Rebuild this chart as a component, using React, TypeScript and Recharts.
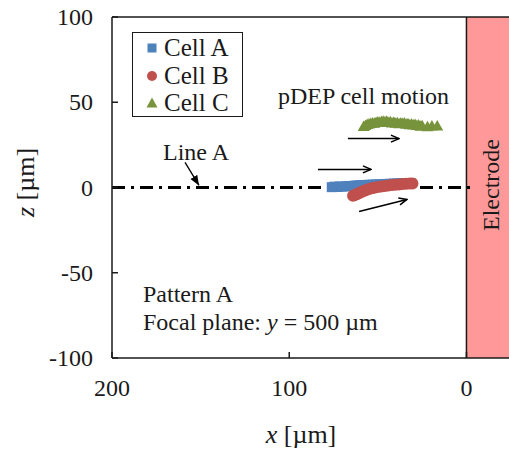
import {
  Legend,
  ReferenceArea,
  ReferenceLine,
  Scatter,
  ScatterChart,
  XAxis,
  YAxis,
} from "recharts";

const FONT = '"Liberation Serif", "Times New Roman", serif';
const INK = "#1a1a1a";

const xTicks = [200, 100, 0];
const zTicks = [100, 50, 0, -50, -100];

// Cell A – tracked positions (x, z in µm)
const cellAX = [76, 74.5, 73, 71.5, 70, 68, 66.5, 65, 63, 61.5, 60, 58, 56.5, 55, 53, 51, 49, 47, 45, 43, 41, 39, 37, 35, 33, 31.5];
const cellAZ = [0.2, 0.5, 0.3, 0.6, 0.5, 0.7, 0.9, 0.8, 1.1, 1.2, 1.3, 1.4, 1.5, 1.6, 1.7, 1.8, 1.9, 2.0, 2.1, 2.2, 2.3, 2.4, 2.5, 2.5, 2.6, 2.6];

// Cell B
const cellBX = [64, 63, 62, 61, 60, 59, 58, 56.5, 55, 53.5, 52, 50, 48, 46, 44, 42, 40, 38, 36, 34, 32, 30.5];
const cellBZ = [-4.8, -4.4, -4, -3.5, -3, -2.5, -2, -1.4, -0.9, -0.5, -0.1, 0.3, 0.6, 0.9, 1.2, 1.4, 1.6, 1.8, 2, 2.2, 2.3, 2.4];

// Cell C
const cellCX = [58, 57, 56, 55, 54, 53, 52, 51, 50, 49, 48, 47, 46, 45, 44, 43, 42, 41, 40, 39, 38, 37, 36, 35, 34, 33, 32, 31, 30, 29, 28, 27, 26, 25, 22, 19.5, 16.5];
const cellCZ = [35.5, 36.0, 36.6, 37.0, 37.3, 37.6, 37.4, 37.9, 38.1, 37.8, 38.4, 38.6, 38.2, 38.5, 37.9, 38.3, 37.6, 38.0, 37.4, 37.7, 37.1, 37.6, 37.2, 37.5, 36.8, 37.1, 36.5, 36.9, 36.3, 36.6, 36.0, 36.3, 35.7, 35.9, 35.3, 35.8, 35.8];

// motion arrows, [x1, z1, x2, z2]
const motionArrows = [
  [66.9, 28.7, 38.1, 28.7],
  [83.8, 10.6, 53.9, 10.6],
  [60.6, -14.1, 33.6, -7.0],
];
const lineAArrow = [158.8, 14.7, 150.9, 1.2];

const toPoints = (xs: number[], zs: number[]) => xs.map((x, i) => ({ x, z: zs[i] }));

const cellA = toPoints(cellAX, cellAZ);
const cellB = toPoints(cellBX, cellBZ);
const cellC = toPoints(cellCX, cellCZ);

const BLUE = "#4F81BD";
const RED = "#C0504D";
const GREEN = "#77933C";

const SquareDot = (p: any) => <rect x={p.cx - 5} y={p.cy - 5} width={10} height={10} fill={BLUE} />;
const CircleDot = (p: any) => <circle cx={p.cx} cy={p.cy} r={6} fill={RED} />;
const TriangleDot = (p: any) => (
  <polygon
    points={`${p.cx},${p.cy - 6.5} ${p.cx - 6},${p.cy + 4} ${p.cx + 6},${p.cy + 4}`}
    fill={GREEN}
  />
);

const XTick = ({ x, y, payload }: any) => (
  <g>
    <line x1={x} y1={y} x2={x} y2={y - 6} stroke={INK} strokeWidth={1.5} />
    <text x={x} y={y + 38} textAnchor="middle" fontFamily={FONT} fontSize={24} fill={INK}>
      {payload.value}
    </text>
  </g>
);

const YTick = ({ x, y, payload }: any) => (
  <g>
    <line x1={x} y1={y} x2={x + 6} y2={y} stroke={INK} strokeWidth={1.5} />
    <text x={x - 19} y={y + 8} textAnchor="end" fontFamily={FONT} fontSize={24} fill={INK}>
      {payload.value}
    </text>
  </g>
);

const XTitle = ({ viewBox }: any) => (
  <text x={viewBox.x + 189} y={viewBox.y + 85} textAnchor="middle" fontFamily={FONT} fontSize={26} fill={INK}>
    <tspan fontStyle="italic">x</tspan> [µm]
  </text>
);

const YTitle = () => (
  <text
    x={34}
    y={182.5}
    transform="rotate(-90 34 182.5)"
    textAnchor="middle"
    fontFamily={FONT}
    fontSize={26}
    fill={INK}
  >
    <tspan fontStyle="italic">z</tspan> [µm]
  </text>
);

const ElectrodeLabel = ({ viewBox }: any) => {
  const tx = viewBox.x + 33;
  const ty = viewBox.y + viewBox.height / 2 - 2.5;
  return (
    <text x={tx} y={ty} transform={`rotate(-90 ${tx} ${ty})`} textAnchor="middle" fontFamily={FONT} fontSize={24} fill={INK}>
      Electrode
    </text>
  );
};

const ArrowLine = (p: any) => (
  <line x1={p.x1} y1={p.y1} x2={p.x2} y2={p.y2} stroke="#000" strokeWidth={1.5} markerEnd="url(#openHead)" />
);
const PointerLine = (p: any) => (
  <line x1={p.x1} y1={p.y1} x2={p.x2} y2={p.y2} stroke="#000" strokeWidth={1.3} markerEnd="url(#solidHead)" />
);

const LegendMarker = ({ type, color }: { type: string; color: string }) => (
  <svg width={14} height={14} style={{ position: "absolute", left: 12, top: 7 }}>
    {type === "square" && <rect x={2.5} y={2.5} width={9} height={9} fill={color} />}
    {type === "circle" && <circle cx={7} cy={7} r={5} fill={color} />}
    {type === "triangle" && <polygon points="7,1.5 1.5,11.5 12.5,11.5" fill={color} />}
  </svg>
);

const LegendBox = ({ payload }: any) => (
  <div
    style={{
      position: "relative",
      width: 111,
      height: 85,
      boxSizing: "border-box",
      border: `1.5px solid ${INK}`,
      background: "#fff",
      fontFamily: FONT,
      fontSize: 25,
      color: INK,
    }}
  >
    {(payload || []).map((entry: any, i: number) => (
      <div key={entry.value} style={{ position: "absolute", left: 0, top: 1 + i * 27.5, height: 28, width: "100%" }}>
        <LegendMarker type={entry.type} color={entry.color} />
        <span style={{ position: "absolute", left: 31, top: 0, lineHeight: "28px", whiteSpace: "nowrap" }}>
          {entry.value}
        </span>
      </div>
    ))}
  </div>
);

const noteStyle = { fontFamily: FONT, fontSize: 24, fill: INK };

export default function App() {
  return (
    <div style={{ position: "absolute", left: 0, top: 0, background: "#fff" }}>
      <ScatterChart width={509} height={450} margin={{ top: 17, right: 0, bottom: 0, left: 0 }}>
        <defs>
          <marker id="openHead" markerWidth={10} markerHeight={10} refX={9} refY={5} orient="auto" markerUnits="userSpaceOnUse">
            <path d="M1,1.5 L9,5 L1,8.5" fill="none" stroke="#000" strokeWidth={1.5} />
          </marker>
          <marker id="solidHead" markerWidth={11} markerHeight={9} refX={10} refY={4} orient="auto" markerUnits="userSpaceOnUse">
            <path d="M0,0 L10,4 L0,8 Z" fill="#000" />
          </marker>
        </defs>
        <XAxis
          type="number"
          dataKey="x"
          domain={[-24, 200]}
          reversed
          ticks={xTicks}
          allowDataOverflow
          height={92}
          tickSize={0}
          tickMargin={0}
          tick={<XTick />}
          axisLine={{ stroke: INK, strokeWidth: 1.5 }}
          label={<XTitle />}
        />
        <YAxis
          type="number"
          dataKey="z"
          domain={[-100, 100]}
          ticks={zTicks}
          allowDataOverflow
          width={112}
          tickSize={0}
          tickMargin={0}
          tick={<YTick />}
          axisLine={{ stroke: INK, strokeWidth: 1.5 }}
          label={<YTitle />}
        />
        <ReferenceArea
          x1={0}
          x2={-24}
          y1={-100}
          y2={100}
          fill="#FF9999"
          fillOpacity={1}
          stroke="none"
          label={<ElectrodeLabel />}
        />
        <ReferenceLine x={0} stroke={INK} strokeWidth={1.5} />
        <ReferenceLine y={100} stroke={INK} strokeWidth={1.5} />
        <ReferenceLine
          segment={[{ x: 200, y: 0 }, { x: -3, y: 0 }]}
          stroke="#000"
          strokeWidth={3}
          strokeDasharray="13 6 3 6"
        />
        {motionArrows.map(([x1, z1, x2, z2], i) => (
          <ReferenceLine key={i} segment={[{ x: x1, y: z1 }, { x: x2, y: z2 }]} shape={ArrowLine} />
        ))}
        <ReferenceLine
          segment={[{ x: lineAArrow[0], y: lineAArrow[1] }, { x: lineAArrow[2], y: lineAArrow[3] }]}
          shape={PointerLine}
        />
        <Scatter name="Cell A" data={cellA} shape={SquareDot} legendType="square" fill={BLUE} isAnimationActive={false} />
        <Scatter name="Cell B" data={cellB} shape={CircleDot} legendType="circle" fill={RED} isAnimationActive={false} />
        <Scatter name="Cell C" data={cellC} shape={TriangleDot} legendType="triangle" fill={GREEN} isAnimationActive={false} />
        <Legend
          layout="vertical"
          align="center"
          verticalAlign="middle"
          wrapperStyle={{ left: 132, top: 32, width: 111, height: 85 }}
          content={<LegendBox />}
        />
        <text x={278} y={104} {...noteStyle}>pDEP cell motion</text>
        <text x={163} y={160} {...noteStyle}>Line A</text>
        <text x={143} y={302} {...noteStyle}>Pattern A</text>
        <text x={143} y={330} {...noteStyle}>
          Focal plane: <tspan fontStyle="italic">y</tspan> = 500 µm
        </text>
      </ScatterChart>
    </div>
  );
}
